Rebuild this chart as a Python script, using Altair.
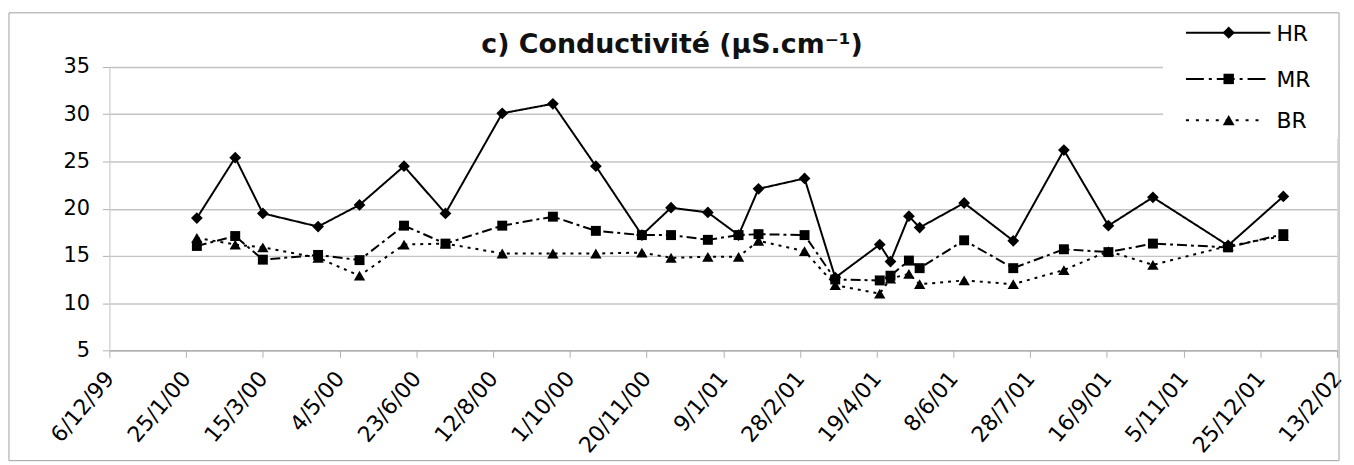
import altair as alt
import pandas as pd

# ---------------- data ----------------
sample_dates = [
    "2000-02-01", "2000-02-26", "2000-03-15", "2000-04-20", "2000-05-17",
    "2000-06-15", "2000-07-12", "2000-08-18", "2000-09-20", "2000-10-18",
    "2000-11-17", "2000-12-06", "2000-12-30", "2001-01-19", "2001-02-01",
    "2001-03-03", "2001-03-23", "2001-04-21", "2001-04-28", "2001-05-10",
    "2001-05-17", "2001-06-15", "2001-07-17", "2001-08-19", "2001-09-17",
    "2001-10-16", "2001-12-04", "2002-01-09",
]
hr = [19.0, 25.4, 19.5, 18.1, 20.4, 24.5, 19.5, 30.1, 31.1, 24.5,
      17.2, 20.1, 19.6, 17.2, 22.1, 23.2, 12.7, 16.2, 14.4, 19.2,
      18.0, 20.6, 16.6, 26.2, 18.2, 21.2, 16.1, 21.3]
mr = [16.05, 17.1, 14.6, 15.1, 14.55, 18.2, 16.3, 18.2, 19.15, 17.65,
      17.2, 17.2, 16.7, 17.2, 17.3, 17.2, 12.5, 12.4, 12.9, 14.5,
      13.7, 16.65, 13.7, 15.7, 15.4, 16.3, 15.9, 17.3]
br = [16.9, 16.2, 15.9, 14.8, 12.9, 16.2, 16.3, 15.25, 15.25, 15.25,
      15.35, 14.8, 14.9, 14.9, 16.6, 15.5, 11.9, 11.0, 12.6, 13.1,
      12.0, 12.4, 12.0, 13.5, 15.5, 14.05, 16.05, 17.1]
series_names = ["HR", "MR", "BR"]
y_ticks = [5, 10, 15, 20, 25, 30, 35]
x_tick_start = "1999-12-06"
x_tick_step_days = 50
x_tick_count = 17
title_text = "c) Conductivité (µS.cm⁻¹)"

FONT = "DejaVu Sans"


def ms(ts):
    return int(pd.Timestamp(ts, tz="UTC").value // 10**6)


rows = []
for name, vals in zip(series_names, [hr, mr, br]):
    for d, v in zip(sample_dates, vals):
        rows.append({"date": ms(d), "value": v, "series": name})
df = pd.DataFrame(rows)

x_tick_values = [
    ms(pd.Timestamp(x_tick_start) + pd.Timedelta(days=x_tick_step_days * i))
    for i in range(x_tick_count)
]

W, H = 1235, 285

x_enc = alt.X(
    "date:T",
    scale=alt.Scale(type="utc", domain=[x_tick_values[0], x_tick_values[-1]], nice=False),
    axis=alt.Axis(
        values=x_tick_values,
        labelExpr="utcFormat(datum.value, '%-d/%-m/%y')",
        labelAngle=-50,
        labelAlign="right",
        labelBaseline="middle",
        labelPadding=17,
        tickSize=7,
        tickColor="#b0b0b0",
        domainColor="#b0b0b0",
        domainWidth=1.5,
        labelFont=FONT,
        labelFontSize=22,
        labelColor="black",
        grid=False,
        title=None,
        labelOverlap=False,
        labelFlush=False,
    ),
)
y_enc = alt.Y(
    "value:Q",
    scale=alt.Scale(domain=[5, 35], nice=False, zero=False),
    axis=alt.Axis(
        values=y_ticks,
        tickSize=7,
        tickColor="#b0b0b0",
        domainColor="#d0d0d0",
        labelPadding=13,
        labelFont=FONT,
        labelFontSize=21,
        labelColor="black",
        grid=True,
        gridColor="#c4c4c4",
        gridWidth=1.5,
        title=None,
    ),
)

dash_patterns = {"HR": [1, 0], "MR": [10, 4, 3, 4], "BR": [3, 5]}

# lines
lines = alt.Chart(df).mark_line(color="black", strokeWidth=2).encode(
    x=x_enc,
    y=y_enc,
    strokeDash=alt.StrokeDash(
        "series:N",
        scale=alt.Scale(domain=series_names, range=[dash_patterns[s] for s in series_names]),
        legend=None,
    ),
    detail="series:N",
)

marker_shapes = {"HR": "diamond", "MR": "square", "BR": "triangle-up"}
marker_sizes = {"HR": 140, "MR": 100, "BR": 130}
point_layers = []
for name in series_names:
    point_layers.append(
        alt.Chart(df)
        .transform_filter(alt.datum.series == name)
        .mark_point(shape=marker_shapes[name], filled=True, color="black",
                    size=marker_sizes[name], opacity=1)
        .encode(x=x_enc, y=y_enc)
    )

# ---------------- legend (Excel style, top right, drawn as decoration) ----------------
one = pd.DataFrame({"k": [0]})
legend_bg = alt.Chart(one).mark_rect(fill="white", stroke=None).encode(
    x=alt.value(1060), x2=alt.value(1236), y=alt.value(-53), y2=alt.value(72)
)
legend_rows_y = {"HR": -34.5, "MR": 12, "BR": 53.5}
legend_line_end = {"HR": 1168, "MR": 1168, "BR": 1160}
legend_dash = {"HR": [1, 0], "MR": [18, 5, 3, 5], "BR": [3, 7]}
legend_layers = [legend_bg]
for name in series_names:
    yy = legend_rows_y[name]
    legend_layers.append(
        alt.Chart(one).mark_rule(color="black", strokeWidth=2, strokeDash=legend_dash[name]).encode(
            x=alt.value(1083), x2=alt.value(legend_line_end[name]), y=alt.value(yy)
        )
    )
    legend_layers.append(
        alt.Chart(one).mark_point(shape=marker_shapes[name], filled=True, color="black",
                                  size=marker_sizes[name] + 10, opacity=1).encode(
            x=alt.value(1126), y=alt.value(yy)
        )
    )
    legend_layers.append(
        alt.Chart(pd.DataFrame({"t": [name]})).mark_text(
            font=FONT, fontSize=22, align="left", baseline="middle", color="black"
        ).encode(text="t:N", x=alt.value(1174), y=alt.value(yy + 1))
    )

# title as text
title_layer = alt.Chart(pd.DataFrame({"t": [title_text]})).mark_text(
    font=FONT, fontSize=27, fontWeight="bold", align="center", baseline="alphabetic",
    color="#111111"
).encode(text="t:N", x=alt.value(566), y=alt.value(-14))

frame = alt.Chart(one).mark_rect(
    fillOpacity=0, stroke="#a0a0a0", strokeWidth=1
).encode(x=alt.value(-101), x2=alt.value(1237), y=alt.value(-54.5), y2=alt.value(396))

chart = (
    alt.layer(lines, *point_layers, *legend_layers, title_layer, frame)
    .properties(width=W, height=H, padding={"left": 0, "top": 3, "right": 0, "bottom": 0})
    .configure_view(stroke=None)
    .configure(background="white")
)

chart.save("out.html", embed_options={"renderer": "svg", "actions": False})
